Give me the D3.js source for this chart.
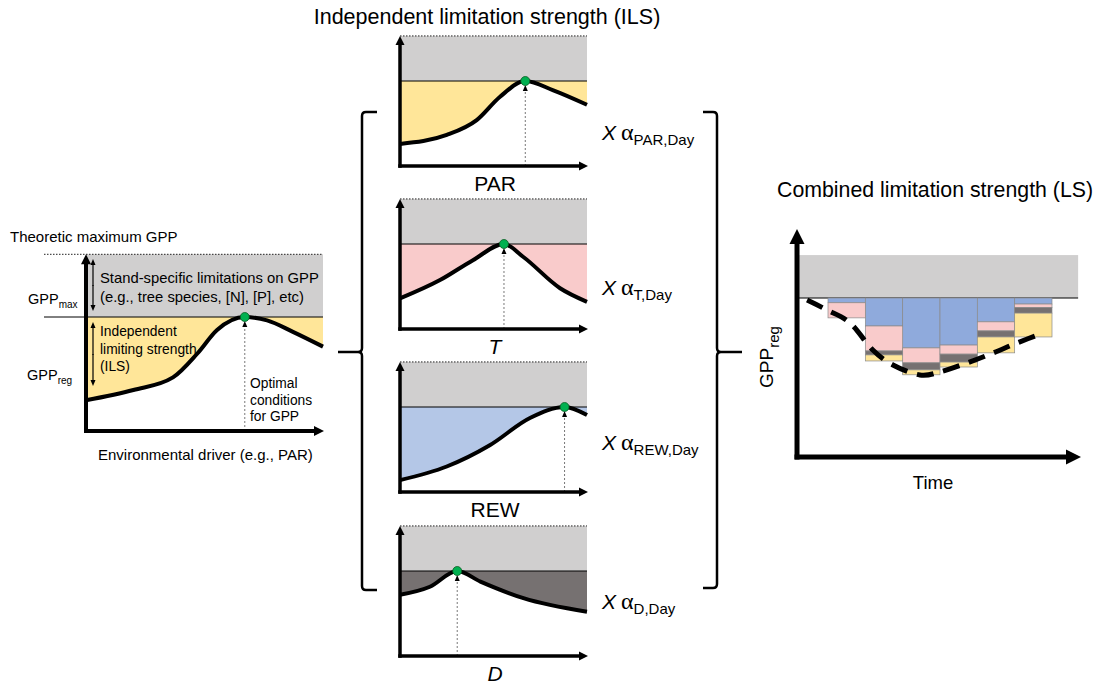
<!DOCTYPE html>
<html>
<head>
<meta charset="utf-8">
<script src="https://cdn.jsdelivr.net/npm/d3@7"></script>
<style>
  body { margin: 0; background: #fff; }
  text { font-family: "Liberation Sans", Arial, sans-serif; fill: #000; }
</style>
</head>
<body>
<svg width="1101" height="685"></svg>
<script>
// response curves: [relative driver, GPP / GPPmax]
const driverCurve = [[0, 0.27], [0.2, 0.36], [0.367, 0.47], [0.47, 0.68], [0.553, 0.886], [0.67, 1], [0.764, 0.97], [0.873, 0.87], [1, 0.74]];
const parCurve = [[0, 0.26], [0.25, 0.365], [0.41, 0.54], [0.535, 0.815], [0.67, 1], [0.82, 0.89], [1, 0.72]];
const tCurve = [[0, 0.36], [0.214, 0.576], [0.39, 0.81], [0.556, 1], [0.658, 0.85], [0.856, 0.48], [1, 0.32]];
const rewCurve = [[0, 0.14], [0.25, 0.30], [0.48, 0.55], [0.695, 0.87], [0.88, 1], [1, 0.905]];
const dCurve = [[0, 0.72], [0.16, 0.815], [0.306, 1], [0.43, 0.875], [0.66, 0.68], [1, 0.52]];

const driverNames = ["PAR", "T", "REW", "D"];
const alphaSubs = ["PAR,Day", "T,Day", "REW,Day", "D,Day"];

// combined limitation per day (GPPmax = 100)
const days = [0, 1, 2, 3, 4, 5];
const rewLim = [3, 17.6, 31.4, 29.6, 15, 3.8];
const tLim = [9.5, 15.7, 9.4, 5.7, 5.7, 2.2];
const dLim = [0, 2.5, 4.4, 5, 3.8, 3.5];
const parLim = [0, 3.8, 3.1, 3.1, 10, 15];
const lsTime = [-0.56, -0.03, 0.59, 1.2, 1.74, 2.46, 3.0, 3.72, 4.42, 5.06, 5.76];
const lsValue = [98.7, 92.5, 84.3, 67.3, 57.9, 51.6, 53.5, 59.1, 65.4, 71.7, 78];

const colors = {grey: "#d0cfcf", par: "#ffe699", t: "#f9cbcb", rew: "#b4c7e7", d: "#767171", rewBar: "#8faadc"};

let svg = d3.select("svg");

const arrow = (g, x1, y1, x2, y2, w, hl, hw) => {
    let a = Math.atan2(y2 - y1, x2 - x1),
        bx = x2 - hl * Math.cos(a), by = y2 - hl * Math.sin(a),
        px = -Math.sin(a) * hw / 2, py = Math.cos(a) * hw / 2;
    g.append("line")
        .attr("x1", x1).attr("y1", y1).attr("x2", bx + Math.cos(a)).attr("y2", by + Math.sin(a))
        .attr("stroke", "#000").attr("stroke-width", w);
    g.append("path")
        .attr("d", `M${x2},${y2}L${bx + px},${by + py}L${bx - px},${by - py}Z`)
        .attr("fill", "#000");
};

const subText = (g, x, y, main, sub, size, subSize, anchor) => {
    let t = g.append("text").attr("x", x).attr("y", y)
        .attr("font-size", size).attr("text-anchor", anchor || "start");
    t.append("tspan").text(main);
    t.append("tspan").attr("font-size", subSize).attr("dy", size * 0.3).text(sub);
    return t;
};

// one response panel: grey stand limitation, coloured ILS area, curve, optimum
const responsePanel = (g, curve, fill, x, y, lineStart, topVal, curveWidth, axisW, headL) => {
    let top = y(topVal);
    let opt = curve.reduce((a, b) => b[1] > a[1] ? b : a);
    g.append("rect")
        .attr("x", x(0)).attr("y", top)
        .attr("width", x(1) - x(0)).attr("height", y(1) - top)
        .attr("fill", colors.grey);
    g.append("path")
        .datum(curve)
        .attr("fill", fill)
        .attr("d", d3.area().curve(d3.curveMonotoneX)
            .x(d => x(d[0])).y0(y(1)).y1(d => y(d[1])));
    g.append("line")
        .attr("x1", lineStart).attr("x2", x(1))
        .attr("y1", y(1)).attr("y2", y(1))
        .attr("stroke", "#000").attr("stroke-width", 1);
    g.append("line")
        .attr("x1", lineStart).attr("x2", x(1))
        .attr("y1", top).attr("y2", top)
        .attr("stroke", "#222").attr("stroke-width", 1)
        .attr("stroke-dasharray", "1.5,1.5");
    // dotted drop line to optimum
    g.append("line")
        .attr("x1", x(opt[0])).attr("x2", x(opt[0]))
        .attr("y1", y(0)).attr("y2", y(1) + 9)
        .attr("stroke", "#555").attr("stroke-width", 0.8)
        .attr("stroke-dasharray", "2,2");
    g.append("path")
        .attr("d", `M${x(opt[0])},${y(1) + 4}l-2.5,6l5,0Z`)
        .attr("fill", "#000");
    g.append("path")
        .datum(curve)
        .attr("fill", "none")
        .attr("stroke", "#000")
        .attr("stroke-width", curveWidth)
        .attr("d", d3.line().curve(d3.curveMonotoneX)
            .x(d => x(d[0])).y(d => y(d[1])));
    g.append("circle")
        .attr("cx", x(opt[0])).attr("cy", y(opt[1]))
        .attr("r", 4.5)
        .attr("fill", "#00b050")
        .attr("stroke", "#0b5d23").attr("stroke-width", 0.8);
    // axes
    arrow(g, x(0), y(0) + axisW / 2, x(0), top, axisW, headL, headL);
    arrow(g, x(0) - axisW / 2, y(0), x(1) + 1, y(0), axisW, headL, headL);
};

// ---------- left conceptual panel ----------
let left = svg.append("g");
let xL = d3.scaleLinear().domain([0, 1]).range([86, 323]);
let yL = d3.scaleLinear().domain([0, 1]).range([431, 317]);
responsePanel(left, driverCurve, colors.par, xL, yL, 44, 1.55, 4, 4, 10);

left.append("text").attr("x", 10).attr("y", 242).attr("font-size", 15).text("Theoretic maximum GPP");
subText(left, 28, 304, "GPP", "max", 14.5, 10);
subText(left, 27, 380, "GPP", "reg", 14.5, 10);
arrow(left, 93, 286, 93, 259, 1.2, 6, 5);
arrow(left, 93, 285, 93, 311, 1.2, 6, 5);
arrow(left, 93, 355, 93, 322, 1.2, 6, 5);
arrow(left, 93, 354, 93, 386, 1.2, 6, 5);
left.append("text").attr("x", 100).attr("y", 283).attr("font-size", 14.8).text("Stand-specific limitations on GPP");
left.append("text").attr("x", 100).attr("y", 302).attr("font-size", 14.8).text("(e.g., tree species, [N], [P], etc)");
["Independent", "limiting strength", "(ILS)"].forEach((s, i) => {
    left.append("text").attr("x", 100).attr("y", 336 + i * 17.5).attr("font-size", 13.8).text(s);
});
["Optimal", "conditions", "for GPP"].forEach((s, i) => {
    left.append("text").attr("x", 250).attr("y", 388 + i * 16.5).attr("font-size", 13.8).text(s);
});
left.append("text").attr("x", 98).attr("y", 460).attr("font-size", 15).text("Environmental driver (e.g., PAR)");

// ---------- middle panels ----------
svg.append("text")
    .attr("x", 487).attr("y", 24)
    .attr("text-anchor", "middle").attr("font-size", 21.5)
    .text("Independent limitation strength (ILS)");

let midCurves = [parCurve, tCurve, rewCurve, dCurve];
let midFills = [colors.par, colors.t, colors.rew, colors.d];
let axisYs = [166, 329, 492, 656];
let alphaYs = [140, 295, 450, 609];
let xM = d3.scaleLinear().domain([0, 1]).range([400, 587]);

midCurves.forEach((curve, i) => {
    let g = svg.append("g");
    let yM = d3.scaleLinear().domain([0, 1]).range([axisYs[i], axisYs[i] - 85]);
    responsePanel(g, curve, midFills[i], xM, yM, xM(0), 1.53, 4, 3.5, 9);
    g.append("text")
        .attr("x", 495).attr("y", axisYs[i] + 25)
        .attr("text-anchor", "middle").attr("font-size", 21)
        .attr("font-style", driverNames[i].length == 1 ? "italic" : "normal")
        .text(driverNames[i]);
    let t = g.append("text").attr("x", 602).attr("y", alphaYs[i]).attr("font-size", 21);
    t.append("tspan").attr("font-style", "italic").text("X");
    t.append("tspan").attr("dx", 5)
        .style("font-family", "'Liberation Serif', 'DejaVu Serif', serif")
        .attr("font-size", 24).text("α");
    t.append("tspan").attr("font-size", 15).attr("dy", 5).text(alphaSubs[i]);
});

// brackets
svg.append("path")
    .attr("d", "M377,112L366,112Q362,112 362,116L362,348Q362,352 358,352L338,352M358,352Q362,352 362,356L362,586Q362,590 366,590L377,590")
    .attr("fill", "none").attr("stroke", "#000").attr("stroke-width", 2.5);
svg.append("path")
    .attr("d", "M703,112L713,112Q717,112 717,116L717,348Q717,352 721,352L742,352M721,352Q717,352 717,356L717,584Q717,588 713,588L703,588")
    .attr("fill", "none").attr("stroke", "#000").attr("stroke-width", 2.5);

// ---------- right panel: combined limitation ----------
let right = svg.append("g");
let xR = d3.scaleLinear().domain([0, 6]).range([828, 1052]);
let yR = d3.scaleLinear().domain([0, 100]).range([457, 298]);

right.append("text")
    .attr("x", 777).attr("y", 197).attr("font-size", 21.3)
    .text("Combined limitation strength (LS)");

right.append("rect")
    .attr("x", xR(-0.83)).attr("y", yR(127))
    .attr("width", xR(6.7) - xR(-0.83)).attr("height", yR(100) - yR(127))
    .attr("fill", colors.grey);
right.append("line")
    .attr("x1", xR(-0.83)).attr("x2", xR(6.7))
    .attr("y1", yR(100)).attr("y2", yR(100))
    .attr("stroke", "#000").attr("stroke-width", 1);

let stackData = days.map(i => ({day: i, rew: rewLim[i], t: tLim[i], d: dLim[i], par: parLim[i]}));
let keys = ["rew", "t", "d", "par"];
let barColors = d3.scaleOrdinal().domain(keys).range([colors.rewBar, colors.t, colors.d, colors.par]);
let series = d3.stack().keys(keys)(stackData);

right.selectAll("g.layer")
    .data(series)
    .join("g")
    .attr("class", "layer")
    .attr("fill", d => barColors(d.key))
    .selectAll("rect")
    .data(d => d.filter(s => s[1] > s[0]))
    .join("rect")
    .attr("x", d => xR(d.data.day))
    .attr("width", xR(1) - xR(0))
    .attr("y", d => yR(100 - d[0]))
    .attr("height", d => yR(100 - d[1]) - yR(100 - d[0]))
    .attr("stroke", "#8a8a8a")
    .attr("stroke-width", 0.7);

right.append("path")
    .datum(d3.zip(lsTime, lsValue))
    .attr("fill", "none")
    .attr("stroke", "#000")
    .attr("stroke-width", 5)
    .attr("stroke-dasharray", "17,10")
    .attr("d", d3.line().curve(d3.curveCardinal)
        .x(d => xR(d[0])).y(d => yR(d[1])));

arrow(right, xR(-0.83), yR(0) + 2.5, xR(-0.83), 229, 5, 15, 15);
arrow(right, xR(-0.83) - 2.5, yR(0), 1081, yR(0), 5, 15, 15);

right.append("text")
    .attr("x", 933).attr("y", 489)
    .attr("text-anchor", "middle").attr("font-size", 18.5)
    .text("Time");

let gl = right.append("g").attr("transform", "translate(773,357) rotate(-90)");
subText(gl, 0, 0, "GPP", "reg", 19, 15, "middle");
</script>
</body>
</html>
